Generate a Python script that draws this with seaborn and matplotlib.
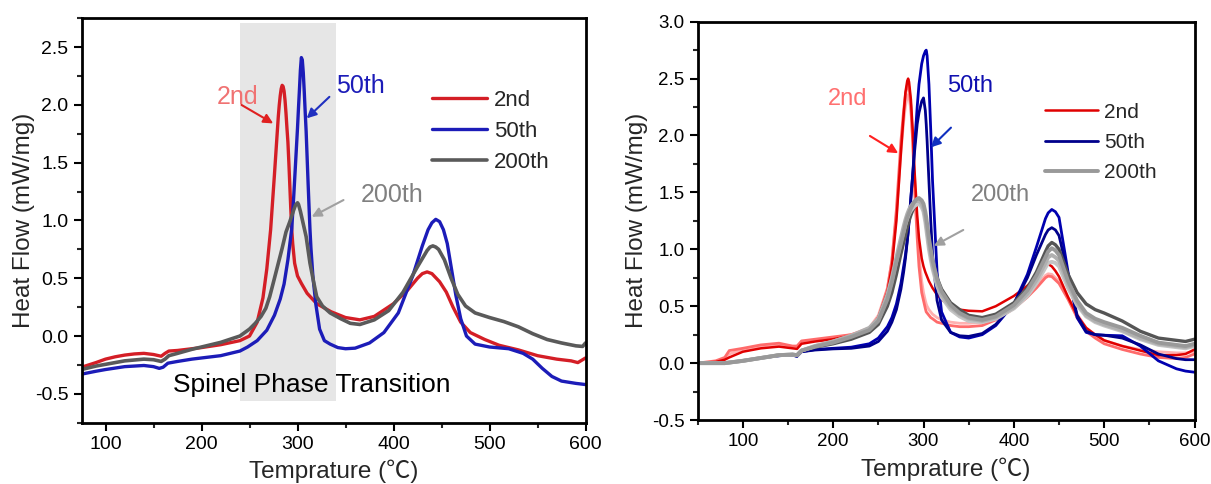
import numpy as np
import pandas as pd
import matplotlib
matplotlib.use("Agg")
import matplotlib.pyplot as plt
from matplotlib.ticker import MultipleLocator, FuncFormatter
import seaborn as sns

sns.set_style("ticks")
plt.rcParams['font.family'] = ['Liberation Sans', 'Noto Sans CJK SC', 'DejaVu Sans']

# ---------------- Left panel data ----------------
left_x_2nd = [75, 90, 100, 110, 120, 130, 140, 150, 158, 162, 166, 175, 190, 200, 220, 240, 250, 258,
              264, 268, 272, 276, 278, 280, 281, 282, 283, 284, 285, 286, 287, 288, 289, 290, 291, 292,
              293, 294, 295, 297, 300, 304, 310, 320, 335, 350, 365, 380, 400, 415, 425, 430, 435, 440,
              448, 455, 462, 470, 480, 495, 510, 530, 550, 570, 585, 592, 600]
left_y_2nd = [-0.27, -0.23, -0.20, -0.18, -0.165, -0.155, -0.15, -0.16, -0.175, -0.15, -0.13, -0.125,
              -0.11, -0.10, -0.075, -0.04, 0.0, 0.12, 0.33, 0.58, 0.92, 1.40, 1.65, 1.90, 2.00, 2.08,
              2.14, 2.17, 2.16, 2.12, 2.04, 1.93, 1.80, 1.68, 1.50, 1.30, 1.10, 0.92, 0.80, 0.63, 0.52,
              0.456, 0.37, 0.28, 0.21, 0.16, 0.14, 0.17, 0.28, 0.40, 0.50, 0.54, 0.555, 0.54, 0.47,
              0.38, 0.25, 0.12, 0.03, -0.03, -0.08, -0.12, -0.17, -0.20, -0.215, -0.23, -0.19]

left_x_50th = [75, 90, 100, 120, 140, 150, 156, 160, 165, 175, 190, 200, 220, 240, 248, 258, 268, 276,
               282, 286, 290, 294, 296, 298, 299, 300, 301, 302, 303, 304, 305, 306, 307, 308, 309, 310,
               311, 312, 313, 314, 316, 319, 323, 328, 334, 342, 350, 360, 375, 390, 405, 420, 430, 436,
               440, 444, 448, 452, 456, 460, 465, 470, 476, 485, 500, 520, 535, 545, 555, 565, 575, 590,
               600]
left_y_50th = [-0.33, -0.305, -0.29, -0.265, -0.255, -0.265, -0.28, -0.27, -0.235, -0.22, -0.20, -0.19,
               -0.17, -0.13, -0.095, -0.04, 0.05, 0.18, 0.32, 0.45, 0.66, 0.93, 1.20, 1.50, 1.65, 1.80,
               1.97, 2.13, 2.30, 2.41, 2.39, 2.28, 2.12, 1.94, 1.77, 1.55, 1.33, 1.12, 0.92, 0.76, 0.52,
               0.28, 0.06, -0.04, -0.07, -0.10, -0.11, -0.105, -0.06, 0.03, 0.20, 0.52, 0.78, 0.92, 0.98,
               1.01, 0.99, 0.92, 0.80, 0.60, 0.35, 0.15, 0.0, -0.07, -0.095, -0.11, -0.15, -0.20, -0.28,
               -0.35, -0.39, -0.41, -0.42]

left_x_200th = [75, 90, 100, 120, 140, 150, 158, 162, 166, 175, 190, 200, 220, 240, 250, 256, 262, 267,
                271, 276, 280, 284, 288, 292, 296, 298, 300, 301, 303, 306, 309, 313, 317, 320, 326, 334,
                345, 355, 365, 380, 395, 410, 425, 435, 438, 441, 444, 447, 453, 460, 467, 475, 485, 500,
                515, 530, 545, 560, 575, 590, 597, 600]
left_y_200th = [-0.29, -0.26, -0.245, -0.215, -0.20, -0.205, -0.22, -0.20, -0.17, -0.15, -0.115, -0.095,
                -0.055, 0.0, 0.06, 0.11, 0.17, 0.24, 0.34, 0.50, 0.63, 0.76, 0.90, 0.99, 1.09, 1.135,
                1.153, 1.14, 1.08, 0.97, 0.86, 0.63, 0.46, 0.34, 0.26, 0.20, 0.15, 0.11, 0.10, 0.14, 0.22,
                0.38, 0.60, 0.74, 0.77, 0.78, 0.77, 0.75, 0.66, 0.50, 0.36, 0.26, 0.20, 0.16, 0.125, 0.08,
                0.02, -0.03, -0.06, -0.085, -0.09, -0.06]

# ---------------- Right panel data ----------------
right_x = [50, 70, 80, 85, 100,
           120, 140, 155, 160, 165,
           180, 200, 220, 240, 250,
           260, 265, 270, 275, 278,
           280, 282, 283, 284, 286,
           288, 290, 293, 295, 298,
           300, 302, 303, 304, 306,
           308, 310, 315, 320, 330,
           340, 350, 365, 380, 400,
           415, 425, 435, 438, 442,
           446, 450, 460, 470, 480,
           490, 500, 520, 540, 560,
           580, 590, 600]

right_2nd_a = [0, 0.01, 0.03, 0.05, 0.10,
               0.13, 0.145, 0.13, 0.125, 0.17,
               0.19, 0.21, 0.24, 0.30, 0.40,
               0.62, 0.85, 1.25, 1.85, 2.18,
               2.38, 2.48, 2.50, 2.47, 2.32,
               2.05, 1.70, 1.30, 1.10, 0.92,
               0.85, 0.80, 0.78, 0.76, 0.72,
               0.69, 0.66, 0.60, 0.56, 0.50,
               0.47, 0.46, 0.455, 0.50, 0.59,
               0.68, 0.76, 0.86, 0.87, 0.85,
               0.81, 0.76, 0.58, 0.42, 0.31,
               0.25, 0.20, 0.15, 0.11, 0.07,
               0.07, 0.08, 0.12]
right_2nd_b = [0, 0.02, 0.05, 0.11, 0.13,
               0.16, 0.175, 0.15, 0.15, 0.195,
               0.21, 0.23, 0.25, 0.30, 0.40,
               0.65, 0.90, 1.35, 1.95, 2.22,
               2.36, 2.44, 2.45, 2.42, 2.26,
               1.95, 1.55, 1.10, 0.85, 0.62,
               0.55, 0.48, 0.45, 0.44, 0.42,
               0.40, 0.39, 0.36, 0.35, 0.33,
               0.32, 0.32, 0.33, 0.38, 0.48,
               0.58, 0.66, 0.75, 0.765, 0.76,
               0.73, 0.70, 0.56, 0.40, 0.28,
               0.22, 0.17, 0.12, 0.08, 0.05,
               0.04, 0.05, 0.08]
right_2nd_c = [0, 0.01, 0.04, 0.08, 0.12,
               0.15, 0.165, 0.14, 0.14, 0.185,
               0.20, 0.22, 0.25, 0.31, 0.42,
               0.66, 0.90, 1.30, 1.85, 2.12,
               2.26, 2.34, 2.36, 2.34, 2.22,
               1.98, 1.65, 1.20, 0.95, 0.72,
               0.62, 0.55, 0.52, 0.50, 0.47,
               0.45, 0.43, 0.40, 0.38, 0.36,
               0.35, 0.35, 0.36, 0.40, 0.50,
               0.60, 0.68, 0.77, 0.785, 0.78,
               0.75, 0.72, 0.58, 0.43, 0.31,
               0.25, 0.20, 0.15, 0.12, 0.10,
               0.09, 0.09, 0.10]
right_50th_a = [0, 0.0, 0.0, 0.005, 0.02,
                0.045, 0.065, 0.07, 0.06, 0.10,
                0.12, 0.13, 0.14, 0.17, 0.22,
                0.32, 0.40, 0.52, 0.70, 0.85,
                0.95, 1.08, 1.15, 1.25, 1.45,
                1.65, 1.90, 2.25, 2.45, 2.63,
                2.70, 2.74, 2.75, 2.70, 2.45,
                2.05, 1.60, 0.80, 0.45, 0.27,
                0.23, 0.22, 0.25, 0.33, 0.52,
                0.78, 1.02, 1.27, 1.32, 1.35,
                1.33, 1.28, 0.80, 0.40, 0.27,
                0.25, 0.245, 0.24, 0.15, 0.02,
                -0.05, -0.07, -0.08]
right_50th_b = [0, 0.0, 0.0, 0.005, 0.02,
                0.045, 0.065, 0.07, 0.06, 0.10,
                0.115, 0.125, 0.13, 0.15, 0.19,
                0.28, 0.36, 0.47, 0.65, 0.80,
                0.92, 1.07, 1.15, 1.25, 1.45,
                1.65, 1.85, 2.10, 2.20, 2.30,
                2.33, 2.22, 2.10, 1.95, 1.60,
                1.25, 0.95, 0.55, 0.38, 0.27,
                0.24, 0.235, 0.26, 0.34, 0.52,
                0.75, 0.95, 1.13, 1.17, 1.19,
                1.17, 1.12, 0.78, 0.42, 0.28,
                0.25, 0.245, 0.22, 0.16, 0.08,
                0.04, 0.03, 0.03]
right_200th_a = [0, 0.0, 0.0, 0.005, 0.02,
                 0.045, 0.07, 0.075, 0.07, 0.11,
                 0.14, 0.17, 0.21, 0.27, 0.34,
                 0.50, 0.62, 0.78, 0.96, 1.06,
                 1.12, 1.19, 1.22, 1.25, 1.30,
                 1.34, 1.37, 1.41, 1.42, 1.41,
                 1.38, 1.30, 1.25, 1.19, 1.08,
                 0.99, 0.90, 0.75, 0.65, 0.53,
                 0.47, 0.42, 0.40, 0.43, 0.53,
                 0.66, 0.80, 0.98, 1.03, 1.06,
                 1.04, 1.00, 0.78, 0.62, 0.52,
                 0.47, 0.44, 0.37, 0.28, 0.22,
                 0.20, 0.19, 0.21]
right_200th_b = [0, 0.0, 0.0, 0.005, 0.02,
                 0.045, 0.07, 0.075, 0.07, 0.11,
                 0.145, 0.18, 0.23, 0.29, 0.37,
                 0.56, 0.71, 0.89, 1.05, 1.15,
                 1.22, 1.28, 1.30, 1.32, 1.36,
                 1.39, 1.42, 1.445, 1.45, 1.43,
                 1.40, 1.33, 1.28, 1.22, 1.10,
                 1.00, 0.90, 0.74, 0.63, 0.51,
                 0.44, 0.40, 0.38, 0.41, 0.51,
                 0.64, 0.77, 0.93, 0.98, 1.01,
                 0.99, 0.95, 0.72, 0.55, 0.44,
                 0.39, 0.36, 0.31, 0.24, 0.18,
                 0.16, 0.15, 0.17]
right_200th_c = [0, 0.0, 0.0, 0.005, 0.02,
                 0.045, 0.07, 0.075, 0.07, 0.11,
                 0.15, 0.19, 0.24, 0.31, 0.39,
                 0.60, 0.75, 0.93, 1.10, 1.20,
                 1.26, 1.31, 1.33, 1.35, 1.38,
                 1.40, 1.42, 1.43, 1.43, 1.40,
                 1.36, 1.28, 1.22, 1.16, 1.04,
                 0.95, 0.86, 0.70, 0.60, 0.49,
                 0.43, 0.39, 0.37, 0.40, 0.49,
                 0.61, 0.73, 0.88, 0.93, 0.95,
                 0.93, 0.90, 0.69, 0.53, 0.42,
                 0.37, 0.34, 0.29, 0.22, 0.17,
                 0.15, 0.14, 0.16]
right_200th_d = [0, 0.0, 0.0, 0.005, 0.02,
                 0.045, 0.07, 0.075, 0.07, 0.11,
                 0.15, 0.19, 0.24, 0.30, 0.38,
                 0.58, 0.73, 0.90, 1.07, 1.16,
                 1.22, 1.27, 1.29, 1.31, 1.34,
                 1.36, 1.38, 1.395, 1.40, 1.37,
                 1.33, 1.24, 1.18, 1.12, 1.00,
                 0.91, 0.83, 0.68, 0.58, 0.47,
                 0.41, 0.37, 0.36, 0.39, 0.48,
                 0.59, 0.70, 0.84, 0.88, 0.89,
                 0.88, 0.85, 0.66, 0.51, 0.41,
                 0.36, 0.33, 0.28, 0.21, 0.16,
                 0.14, 0.13, 0.15]

legend_labels = ["2nd", "50th", "200th"]

fig = plt.figure(figsize=(12.11, 4.84), dpi=100)
axL = fig.add_axes([0.0673, 0.1267, 0.4162, 0.8355])
axR = fig.add_axes([0.5761, 0.1322, 0.4103, 0.8230])

# ---- Left panel ----
axL.fill_between([240, 340], -0.56, 2.71, color="#e6e6e6", lw=0, zorder=0)
sns.lineplot(x=left_x_2nd, y=left_y_2nd, ax=axL, color="#d41e26", lw=2.4, label=legend_labels[0], sort=False)
sns.lineplot(x=left_x_50th, y=left_y_50th, ax=axL, color="#1c1cb8", lw=2.4, label=legend_labels[1], sort=False)
sns.lineplot(x=left_x_200th, y=left_y_200th, ax=axL, color="#5a5a5a", lw=2.6, label=legend_labels[2], sort=False)

axL.set_xlim(75, 600)
axL.set_ylim(-0.75, 2.75)
axL.text(315, -0.425, "Spinel Phase Transition", fontsize=19, ha="center", va="center", color="black")
axL.text(238, 2.07, "2nd", fontsize=18, color="#f07272", ha="center", va="center")
axL.text(365, 2.165, "50th", fontsize=18, color="#1c1cb8", ha="center", va="center")
axL.text(399, 1.22, "200th", fontsize=18, color="#808080", ha="center", va="center")
axL.annotate("", xy=(274.7, 1.84), xytext=(241.7, 2.0),
             arrowprops=dict(arrowstyle="-|>", color="#e02020", lw=1.5, mutation_scale=14,
                             shrinkA=0, shrinkB=0))
axL.annotate("", xy=(309.6, 1.884), xytext=(333.2, 2.07),
             arrowprops=dict(arrowstyle="-|>", color="#2030c0", lw=1.5, mutation_scale=14,
                             shrinkA=0, shrinkB=0))
axL.annotate("", xy=(314.8, 1.032), xytext=(347.9, 1.177),
             arrowprops=dict(arrowstyle="-|>", color="#a0a0a0", lw=1.5, mutation_scale=14,
                             shrinkA=0, shrinkB=0))
axL.legend(loc="upper left", bbox_to_anchor=(0.695, 0.823), frameon=False, fontsize=16,
           handlelength=2.5, handletextpad=0.3, labelspacing=0.45, borderpad=0, borderaxespad=0)

# ---- Right panel ----
right_series = [
    (right_2nd_c, "#ffb0b0", 2.0, None),
    (right_2nd_b, "#ff6b6b", 2.0, None),
    (right_2nd_a, "#e00000", 1.8, legend_labels[0]),
    (right_50th_a, "#0000b0", 2.0, None),
    (right_50th_b, "#00008b", 2.0, legend_labels[1]),
    (right_200th_a, "#555555", 2.4, None),
    (right_200th_d, "#c4c4c4", 2.8, None),
    (right_200th_c, "#b0b0b0", 2.8, None),
    (right_200th_b, "#999999", 2.8, legend_labels[2]),
]
for ys, col, lw, lab in right_series:
    sns.lineplot(x=right_x, y=ys, ax=axR, color=col, lw=lw, label=lab, sort=False)

axR.set_xlim(50, 600)
axR.set_ylim(-0.5, 3.0)
axR.text(216, 2.32, "2nd", fontsize=17, color="#ff7070", ha="center", va="center")
axR.text(352, 2.435, "50th", fontsize=17, color="#1010b0", ha="center", va="center")
axR.text(385, 1.477, "200th", fontsize=17, color="#808080", ha="center", va="center")
axR.annotate("", xy=(272, 1.844), xytext=(240.7, 1.996),
             arrowprops=dict(arrowstyle="-|>", color="#ff2020", lw=1.5, mutation_scale=14,
                             shrinkA=0, shrinkB=0))
axR.annotate("", xy=(308.2, 1.896), xytext=(330.4, 2.069),
             arrowprops=dict(arrowstyle="-|>", color="#1030c0", lw=1.5, mutation_scale=14,
                             shrinkA=0, shrinkB=0))
axR.annotate("", xy=(311.5, 1.03), xytext=(344, 1.17),
             arrowprops=dict(arrowstyle="-|>", color="#a0a0a0", lw=1.5, mutation_scale=14,
                             shrinkA=0, shrinkB=0))
axR.legend(loc="upper left", bbox_to_anchor=(0.70, 0.797), frameon=False, fontsize=15,
           handlelength=2.5, handletextpad=0.3, labelspacing=0.55, borderpad=0, borderaxespad=0)

for ax in (axL, axR):
    ax.xaxis.set_major_locator(MultipleLocator(100))
    ax.xaxis.set_minor_locator(MultipleLocator(50))
    ax.yaxis.set_major_locator(MultipleLocator(0.5))
    ax.yaxis.set_minor_locator(MultipleLocator(0.25))
    ax.tick_params(which="major", direction="out", length=6, width=1.5, labelsize=14, colors="black")
    ax.tick_params(which="minor", direction="out", length=3.5, width=1.5)
    for sp in ax.spines.values():
        sp.set_visible(True)
        sp.set_linewidth(2.0)
        sp.set_color("black")
    ax.set_xlabel("Temprature (\u2103)", fontsize=17.5, labelpad=5)
    ax.yaxis.set_major_formatter(FuncFormatter(lambda v, p: f"{v:.1f}"))

axL.set_ylabel("Heat Flow (mW/mg)", fontsize=17.5, labelpad=0)
axR.set_ylabel("Heat Flow (mW/mg)", fontsize=17.5, labelpad=3)
axR.tick_params(which="major", labelsize=13.5)

fig.savefig("out.png", dpi=100)
